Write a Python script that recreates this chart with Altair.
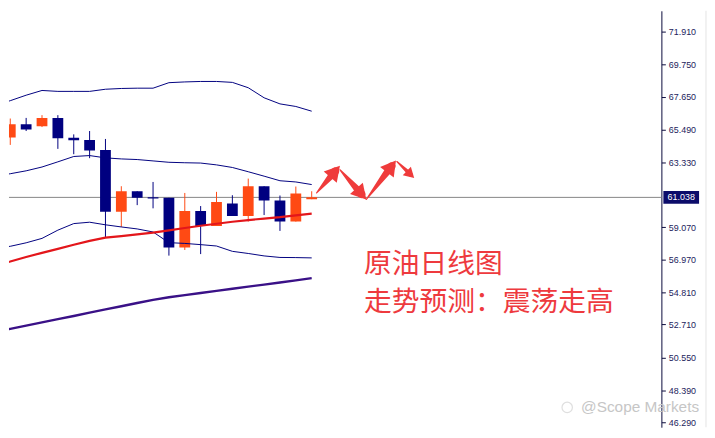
import math
import altair as alt
import pandas as pd

# ---------------- data ----------------
candle_idx = list(range(20))
opens  = [64.97, 65.84, 65.71, 66.25, 64.95, 64.80, 64.15, 60.10, 61.44, 61.05,
          61.01, 57.76, 60.14, 59.17, 60.64, 59.82, 61.77, 60.84, 59.45, 60.92]
highs  = [66.21, 66.25, 66.43, 66.43, 65.17, 65.39, 64.87, 61.77, 61.44, 62.05,
          61.01, 61.33, 60.47, 61.40, 61.18, 62.27, 61.77, 61.16, 61.75, 61.44]
lows   = [64.48, 65.39, 65.65, 64.22, 63.87, 63.61, 58.41, 59.10, 60.53, 60.32,
          57.22, 57.59, 57.32, 59.17, 59.82, 59.45, 59.88, 58.84, 59.45, 60.92]
closes = [65.84, 65.49, 66.25, 64.91, 64.78, 64.11, 60.10, 61.44, 61.01, 60.97,
          57.76, 60.14, 59.17, 60.73, 59.82, 61.77, 60.84, 59.45, 61.29, 61.04]

line_idx = list(range(-1, 20))
band_upper  = [67.04, 67.38, 67.74, 68.05, 67.99, 67.99, 67.99, 68.13, 68.18, 68.20, 68.20,
               68.56, 68.61, 68.64, 68.64, 68.58, 68.23, 67.57, 67.17, 67.00, 66.69]
band_middle = [62.40, 62.59, 62.78, 63.03, 63.37, 63.72, 63.78, 63.63, 63.56, 63.52, 63.43,
               63.34, 63.31, 63.29, 63.17, 63.00, 62.72, 62.43, 62.13, 62.05, 61.88]
band_lower  = [57.70, 57.83, 58.06, 58.35, 58.89, 59.32, 59.41, 59.24, 59.10, 58.97, 58.77,
               58.07, 58.02, 57.94, 57.85, 57.50, 57.36, 57.20, 57.10, 57.09, 57.07]
ma_red      = [56.57, 56.83, 57.13, 57.40, 57.66, 57.93, 58.19, 58.40, 58.50, 58.61, 58.73,
               58.88, 59.03, 59.18, 59.31, 59.44, 59.55, 59.65, 59.74, 59.86, 59.97]
ma_purple   = [52.20, 52.42, 52.63, 52.84, 53.05, 53.26, 53.48, 53.69, 53.90, 54.11, 54.32,
               54.49, 54.63, 54.77, 54.91, 55.05, 55.19, 55.32, 55.46, 55.60, 55.74]

tick_values = [71.91, 69.75, 67.65, 65.49, 63.33, 59.07, 56.97, 54.81, 52.71, 50.55, 48.39, 46.29]
last_price = 61.038

# forecast zig-zag arrows (start -> tip, in bar index / price)
arrow_x0 = [19.31, 20.78, 22.44, 24.37]
arrow_y0 = [61.33, 62.85, 60.90, 63.39]
arrow_x1 = [20.78, 22.44, 24.31, 25.46]
arrow_y1 = [63.11, 60.90, 63.46, 62.31]

title_lines = ["原油日线图", "走势预测：震荡走高"]
watermark = "@Scope Markets"

# ---------------- layout / style ----------------
W, H = 658, 420
PX_PER_BAR = 16.0
PX_PER_PRICE = 15.38
XMIN = -0.08125
XMAX = XMIN + W / PX_PER_BAR
YMAX = 73.275
YMIN = YMAX - H / PX_PER_PRICE

BULL = "#ff4a14"
BEAR = "#000080"
NAVY = "#000080"
RED = "#e3161b"
PURPLE = "#3a1187"
ARROW = "#ef3b3b"
TEXT_RED = "#ee3a3e"

XS = alt.Scale(domain=[XMIN, XMAX], nice=False, zero=False)
YS = alt.Scale(domain=[YMIN, YMAX], nice=False, zero=False)
Y_AXIS = alt.Axis(
    orient="right", values=tick_values, format=".3f", title="", grid=False,
    labelFont="Liberation Sans", labelFontSize=9, labelColor="#1c1c5c",
    domainColor="#0a0a3c", tickColor="#0a0a3c", tickSize=4, labelPadding=3,
    labelFlush=False, labelOverlap=False,
)


def X(field):
    return alt.X(field, scale=XS, axis=None)


def Y(field):
    return alt.Y(field, scale=YS, axis=Y_AXIS)


candles = pd.DataFrame({"i": candle_idx, "open": opens, "high": highs,
                        "low": lows, "close": closes})
candles["left"] = candles["i"] - 0.34
candles["right"] = candles["i"] + 0.34
candles["top"] = candles[["open", "close"]].max(axis=1)
candles["bottom"] = candles[["open", "close"]].min(axis=1)

color_cond = alt.condition("datum.close >= datum.open", alt.value(BULL), alt.value(BEAR))

bands = pd.DataFrame({
    "i": line_idx * 3,
    "v": band_upper + band_middle + band_lower,
    "s": ["upper"] * len(line_idx) + ["middle"] * len(line_idx) + ["lower"] * len(line_idx),
})
red_df = pd.DataFrame({"i": line_idx, "v": ma_red})
purple_df = pd.DataFrame({"i": line_idx, "v": ma_purple})
last_df = pd.DataFrame({"p": [last_price]})

# arrows: tapered shaft (trail) + triangular head
head_sizes = [300, 300, 300, 140]
shaft_w = [8.0, 8.0, 8.0, 4.5]
trail_rows, head_rows = [], []
for k, (x0, y0, x1, y1) in enumerate(zip(arrow_x0, arrow_y0, arrow_x1, arrow_y1)):
    dx = (x1 - x0) * PX_PER_BAR
    dy = (y1 - y0) * PX_PER_PRICE
    L = math.hypot(dx, dy)
    ux, uy = dx / L, dy / L
    h = math.sqrt(3) * math.sqrt(head_sizes[k]) / 4.0
    cx = x1 - ux * h / PX_PER_BAR
    cy = y1 - uy * h / PX_PER_PRICE
    trail_rows.append({"a": k, "o": 0, "x": x0, "y": y0, "w": 1.2})
    trail_rows.append({"a": k, "o": 1, "x": cx, "y": cy, "w": shaft_w[k]})
    head_rows.append({"x": cx, "y": cy, "ang": math.degrees(math.atan2(dx, dy)) % 360,
                      "sz": head_sizes[k]})
trail_df = pd.DataFrame(trail_rows)
head_df = pd.DataFrame(head_rows)

# ---------------- layers ----------------
last_line = alt.Chart(last_df).mark_rule(color="#858585", strokeWidth=1).encode(
    y=Y("p:Q"), x=alt.value(0), x2=alt.value(W))

wicks = alt.Chart(candles).mark_rule(strokeWidth=1, clip=True).encode(
    x=X("i:Q"), y=Y("low:Q"), y2="high:Q", color=color_cond)

bodies = alt.Chart(candles).mark_rect(clip=True).encode(
    x=X("left:Q"), x2="right:Q", y=Y("bottom:Q"), y2="top:Q", color=color_cond)

band_lines = alt.Chart(bands).mark_line(color=NAVY, strokeWidth=1, clip=True).encode(
    x=X("i:Q"), y=Y("v:Q"), detail="s:N")

red_line = alt.Chart(red_df).mark_line(color=RED, strokeWidth=2.2, clip=True).encode(
    x=X("i:Q"), y=Y("v:Q"))

purple_line = alt.Chart(purple_df).mark_line(color=PURPLE, strokeWidth=2.4, clip=True).encode(
    x=X("i:Q"), y=Y("v:Q"))

arrow_shafts = alt.Chart(trail_df).mark_trail(color=ARROW).encode(
    x=X("x:Q"), y=Y("y:Q"), size=alt.Size("w:Q", scale=None), detail="a:N", order="o:Q")

arrow_heads = alt.Chart(head_df).mark_point(
    shape="triangle-up", filled=True, color=ARROW, opacity=1, strokeWidth=0).encode(
    x=X("x:Q"), y=Y("y:Q"), angle=alt.Angle("ang:Q", scale=None),
    size=alt.Size("sz:Q", scale=None))

price_box = alt.Chart(last_df).mark_point(
    shape="M-1,-0.36L1,-0.36L1,0.36L-1,0.36Z", size=1296, filled=True,
    color="#0c0c6a", opacity=1, strokeWidth=0).encode(
    x=alt.value(W + 20), y=Y("p:Q"))

price_text = alt.Chart(last_df).mark_text(
    color="white", font="Liberation Sans", fontSize=9, align="center", baseline="middle").encode(
    x=alt.value(W + 20), y=Y("p:Q"), text=alt.Text("p:Q", format=".3f"))

title1 = alt.Chart(pd.DataFrame({"t": [title_lines[0]]})).mark_text(
    font="Noto Sans CJK SC", fontSize=28, color=TEXT_RED, align="left", baseline="middle").encode(
    text="t:N", x=alt.value(358), y=alt.value(256))

title2 = alt.Chart(pd.DataFrame({"t": [title_lines[1]]})).mark_text(
    font="Noto Sans CJK SC", fontSize=28, color=TEXT_RED, align="left", baseline="middle").encode(
    text="t:N", x=alt.value(358), y=alt.value(295))

wm_text = alt.Chart(pd.DataFrame({"t": [watermark]})).mark_text(
    font="Liberation Sans", fontSize=15.5, color="#c6c6c6", align="left", baseline="middle").encode(
    text="t:N", x=alt.value(577), y=alt.value(400))

wm_icon = alt.Chart(pd.DataFrame({"t": [watermark]})).mark_point(
    shape="circle", size=110, color="#d2d2d2", strokeWidth=1.2, filled=False).encode(
    x=alt.value(563), y=alt.value(400))

edge = alt.Chart(last_df).mark_rule(color="#e4e4e4", strokeWidth=1).encode(
    x=alt.value(W + 45), y=alt.value(0), y2=alt.value(H))

chart = alt.layer(
    last_line, wicks, bodies, band_lines, red_line, purple_line,
    arrow_shafts, arrow_heads, price_box, price_text,
    title1, title2, wm_icon, wm_text, edge,
).properties(
    width=W, height=H, padding=0, background="white"
).configure_view(strokeWidth=0)

chart.save("out.html", embed_options={"renderer": "svg", "actions": False})
